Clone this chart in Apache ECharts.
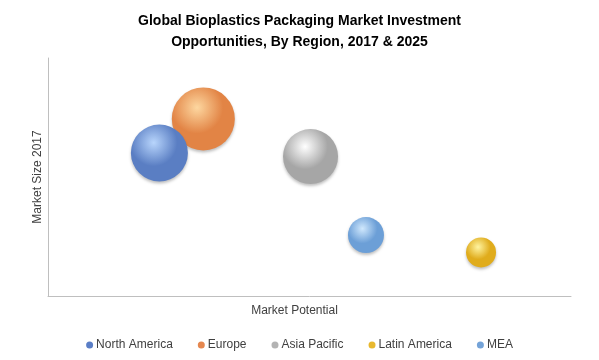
<!DOCTYPE html>
<html>
<head>
<meta charset="utf-8">
<script src="https://cdn.jsdelivr.net/npm/echarts@6/dist/echarts.min.js"></script>
<style>
html,body{margin:0;padding:0;background:#fff;}
#chart{width:599px;height:360px;}
</style>
</head>
<body>
<div id="chart"></div>
<script>
var regions = ['North America', 'Europe', 'Asia Pacific', 'Latin America', 'MEA'];
var marketPotential = [21.3, 29.7, 50.2, 82.8, 60.8];
var marketSize2017 = [60.1, 74.4, 58.6, 18.3, 25.6];
var bubbleSize = [57, 63, 55, 30, 36];

var baseColors = ['#5a7ec3', '#e28445', '#a6a6a6', '#e0ac1c', '#6c9fd7'];
var lightColors = ['#b8d5fc', '#fdd7a0', '#ffffff', '#fff4a0', '#d0e8fd'];
var legendColors = ['#5a7ec6', '#e5874f', '#b3b3b3', '#e8b82e', '#74a3d8'];

var chart = echarts.init(document.getElementById('chart'));
var zOrder = [3, 2, 2, 2, 2];
var series = regions.map(function (r, i) {
  return {
    name: r,
    type: 'scatter',
    z: zOrder[i],
    symbol: 'circle',
    symbolSize: function (v) { return v[2]; },
    data: [[marketPotential[i], marketSize2017[i], bubbleSize[i]]],
    itemStyle: {
      opacity: 1,
      color: new echarts.graphic.RadialGradient(0.4, 0.32, 0.75, [
        { offset: 0, color: lightColors[i] },
        { offset: 0.55, color: baseColors[i] },
        { offset: 1, color: baseColors[i] }
      ]),
      shadowColor: 'rgba(0,0,0,0.25)',
      shadowBlur: 3,
      shadowOffsetY: 2
    },
    emphasis: { disabled: true }
  };
});

chart.setOption({
  animation: false,
  backgroundColor: '#ffffff',
  title: {
    text: 'Global Bioplastics Packaging Market Investment\nOpportunities, By Region, 2017 & 2025',
    left: 'center',
    top: 6,
    textStyle: {
      fontFamily: 'Liberation Sans, Arial, sans-serif',
      fontWeight: 'bold',
      fontSize: 14,
      lineHeight: 21,
      color: '#000000'
    }
  },
  legend: {
    bottom: 4,
    left: 'center',
    icon: 'circle',
    itemWidth: 7,
    itemHeight: 7,
    itemGap: 25,
    textStyle: {
      fontFamily: 'Liberation Sans, Arial, sans-serif',
      fontSize: 12,
      color: '#404040',
      padding: [0, 0, 0, -2]
    },
    data: regions.map(function (r, i) {
      return { name: r, itemStyle: { color: legendColors[i] } };
    })
  },
  grid: { left: 48, right: 28, top: 58, bottom: 64 },
  xAxis: {
    type: 'value',
    min: 0,
    max: 100,
    name: 'Market Potential',
    nameLocation: 'middle',
    nameGap: 9,
    nameTextStyle: {
      fontFamily: 'Liberation Sans, Arial, sans-serif',
      fontSize: 12,
      color: '#404040',
      padding: [0, 30, 0, 0]
    },
    axisLine: { show: true, lineStyle: { color: '#bfbfbf', width: 1 } },
    axisTick: { show: false },
    axisLabel: { show: false },
    splitLine: { show: false }
  },
  yAxis: {
    type: 'value',
    min: 0,
    max: 100,
    name: 'Market Size 2017',
    nameLocation: 'middle',
    nameGap: 4,
    nameTextStyle: {
      fontFamily: 'Liberation Sans, Arial, sans-serif',
      fontSize: 12,
      color: '#404040'
    },
    axisLine: { show: true, lineStyle: { color: '#bfbfbf', width: 1 } },
    axisTick: { show: false },
    axisLabel: { show: false },
    splitLine: { show: false }
  },
  series: series
});
</script>
</body>
</html>
